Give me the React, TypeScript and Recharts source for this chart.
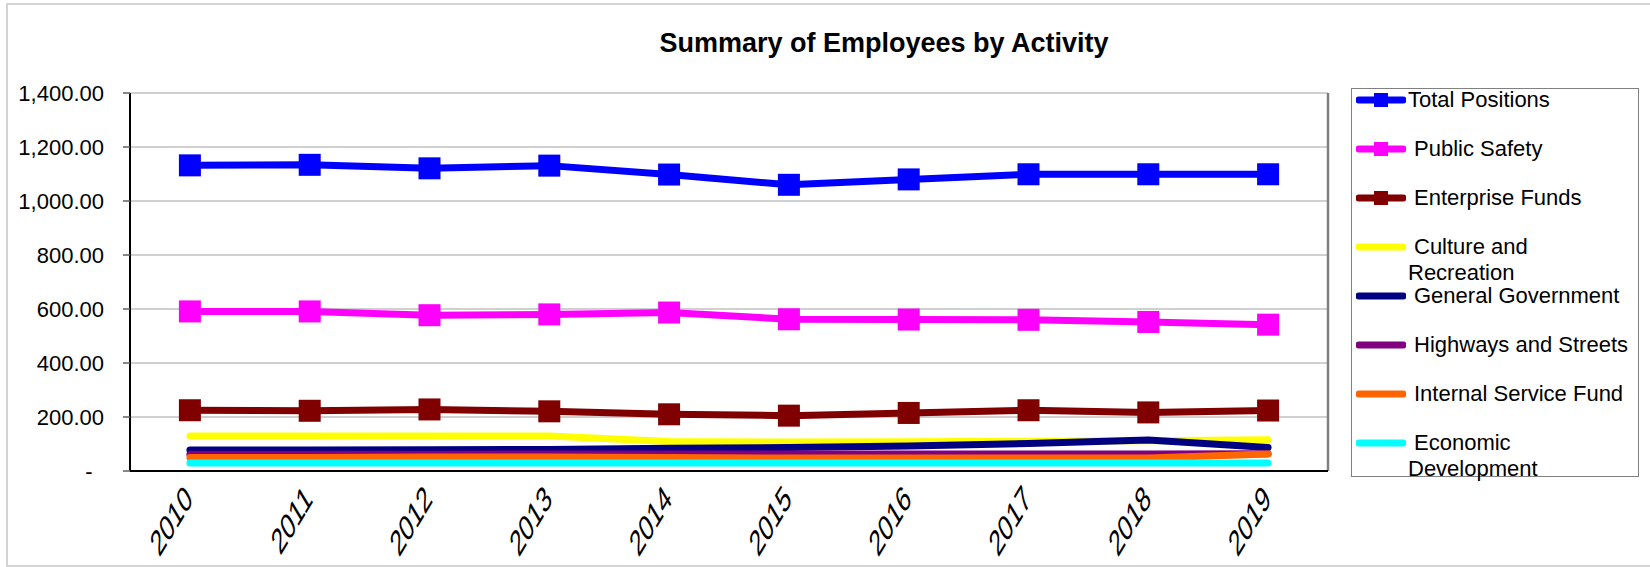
import { LineChart, Line, XAxis, YAxis, CartesianGrid, ReferenceLine } from 'recharts';

const years = ['2010', '2011', '2012', '2013', '2014', '2015', '2016', '2017', '2018', '2019'];

const totalPositions = [1132, 1134, 1121, 1131, 1098, 1060, 1080, 1099, 1099, 1099];
const publicSafety = [591, 591, 577, 580, 587, 562, 561, 560, 552, 542];
const enterpriseFunds = [225, 223, 228, 221, 210, 205, 215, 225, 217, 224];
const cultureRecreation = [130, 130, 130, 130, 109, 107, 108, 110, 112, 116];
const generalGovernment = [78, 78, 79, 80, 84, 87, 93, 102, 115, 87];
const highwaysStreets = [62, 62, 62, 63, 63, 63, 63, 63, 63, 64];
const internalService = [50, 50, 52, 52, 50, 48, 48, 48, 48, 63];
const economicDevelopment = [30, 30, 30, 30, 30, 30, 30, 30, 30, 30];

const yTicks = [0, 200, 400, 600, 800, 1000, 1200, 1400];
const xTicks = [0, 1, 2, 3, 4, 5, 6, 7, 8, 9];
const boundaryTicks = [-0.5, 0.5, 1.5, 2.5, 3.5, 4.5, 5.5, 6.5, 7.5, 8.5, 9.5];

const series = [
    { key: 'total', name: 'Total Positions', color: '#0000ff', values: totalPositions, marker: true },
    { key: 'publicSafety', name: 'Public Safety', color: '#ff00ff', values: publicSafety, marker: true },
    { key: 'enterprise', name: 'Enterprise Funds', color: '#800000', values: enterpriseFunds, marker: true },
    { key: 'culture', name: 'Culture and Recreation', color: '#ffff00', values: cultureRecreation, marker: false },
    { key: 'general', name: 'General Government', color: '#000080', values: generalGovernment, marker: false },
    { key: 'highways', name: 'Highways and Streets', color: '#800080', values: highwaysStreets, marker: false },
    { key: 'internal', name: 'Internal Service Fund', color: '#ff6600', values: internalService, marker: false },
    { key: 'economic', name: 'Economic Development', color: '#00ffff', values: economicDevelopment, marker: false },
];

const chartData = years.map((year, i) => {
    const row: Record<string, number | string> = { idx: i, year };
    series.forEach((s) => {
        row[s.key] = s.values[i];
    });
    return row;
});

const FONT = '"Liberation Sans", Arial, Helvetica, sans-serif';

function squareDot(color: string) {
    return (props: any) => {
        const { cx, cy, index } = props;
        if (cx == null || cy == null) return <g key={index} />;
        return <rect key={index} x={cx - 11} y={cy - 11} width={22} height={22} fill={color} />;
    };
}

function YTick(props: any) {
    const { x, y, payload } = props;
    if (payload.value === 0) {
        return (
            <text x={x - 15} y={y} dy="0.36em" textAnchor="middle" fontSize={22} fontFamily={FONT} fill="#000">
                -
            </text>
        );
    }
    const label = payload.value.toLocaleString('en-US', { minimumFractionDigits: 2, maximumFractionDigits: 2 });
    return (
        <text x={x} y={y} dy="0.36em" textAnchor="end" fontSize={22} fontFamily={FONT} fill="#000">
            {label}
        </text>
    );
}

// year labels: 45 degrees, stretched vertically like the original
function XTick(props: any) {
    const { x, y, payload } = props;
    const ax = x + 4;
    const ay = y + 30;
    return (
        <g transform={`translate(${ax} ${ay}) scale(1 1.65) rotate(-45)`}>
            <text x={0} y={0} textAnchor="end" fontSize={22} fontFamily={FONT} fill="#000">
                {years[payload.value]}
            </text>
        </g>
    );
}

function Legend() {
    return (
        <div
            style={{
                position: 'absolute',
                left: 1351,
                top: 88,
                width: 286,
                height: 387,
                border: '1.5px solid #808080',
                fontFamily: FONT,
                fontSize: 22,
                color: '#000',
            }}
        >
            {series.map((s, i) => (
                <div key={s.key} style={{ position: 'absolute', left: 0, top: 11 + i * 49 - 13, width: 286 }}>
                    <svg width={50} height={26} style={{ position: 'absolute', left: 4, top: 0 }}>
                        <line x1={3} y1={13} x2={47} y2={13} stroke={s.color} strokeWidth={7} strokeLinecap="round" />
                        {s.marker && <rect x={18} y={6} width={14} height={14} fill={s.color} />}
                    </svg>
                    <div
                        style={{
                            position: 'absolute',
                            left: 56,
                            top: 0,
                            width: 224,
                            lineHeight: '26px',
                            textIndent: i === 0 ? 0 : 6,
                            whiteSpace: 'normal',
                        }}
                    >
                        {s.name}
                    </div>
                </div>
            ))}
        </div>
    );
}

export default function App() {
    return (
        <div style={{ position: 'absolute', left: 0, top: 0, width: 1650, height: 567, background: '#fff', overflow: 'hidden' }}>
            <div
                style={{
                    position: 'absolute',
                    left: 6,
                    top: 3,
                    width: 1700,
                    height: 560,
                    border: '2px solid #d4d4d4',
                }}
            />
            <div
                style={{
                    position: 'absolute',
                    left: 884,
                    top: 28,
                    transform: 'translateX(-50%)',
                    whiteSpace: 'nowrap',
                    fontFamily: FONT,
                    fontWeight: 'bold',
                    fontSize: 27,
                    color: '#000',
                }}
            >
                Summary of Employees by Activity
            </div>
            <div style={{ position: 'absolute', left: 0, top: 0 }}>
                <LineChart
                    width={1650}
                    height={567}
                    data={chartData}
                    margin={{ top: 93, right: 322, bottom: 6, left: 10 }}
                >
                    <CartesianGrid vertical={false} stroke="#c0c0c0" strokeWidth={1.5} />
                    <XAxis
                        xAxisId="bounds"
                        type="number"
                        domain={[-0.5, 9.5]}
                        ticks={boundaryTicks}
                        tick={false}
                        axisLine={false}
                        tickLine={{ stroke: '#808080', strokeWidth: 1.5 }}
                        tickSize={9}
                        height={0}
                        allowDataOverflow
                    />
                    <XAxis
                        dataKey="idx"
                        type="number"
                        domain={[-0.5, 9.5]}
                        ticks={xTicks}
                        tick={<XTick />}
                        tickLine={false}
                        tickSize={0}
                        tickMargin={0}
                        axisLine={{ stroke: '#000', strokeWidth: 2 }}
                        height={90}
                        interval={0}
                    />
                    <YAxis
                        domain={[0, 1400]}
                        ticks={yTicks}
                        tick={<YTick />}
                        tickSize={7}
                        tickMargin={19}
                        tickLine={{ stroke: '#606060', strokeWidth: 1.5 }}
                        axisLine={{ stroke: '#000', strokeWidth: 2 }}
                        width={120}
                        interval={0}
                    />
                    <ReferenceLine x={9.5} stroke="#808080" strokeWidth={2.5} />
                    {series.map((s) => (
                        <Line
                            key={s.key}
                            dataKey={s.key}
                            name={s.name}
                            stroke={s.color}
                            strokeWidth={7}
                            strokeLinecap="round"
                            strokeLinejoin="round"
                            dot={s.marker ? squareDot(s.color) : false}
                            activeDot={false}
                            isAnimationActive={false}
                        />
                    ))}
                </LineChart>
            </div>
            <Legend />
        </div>
    );
}
